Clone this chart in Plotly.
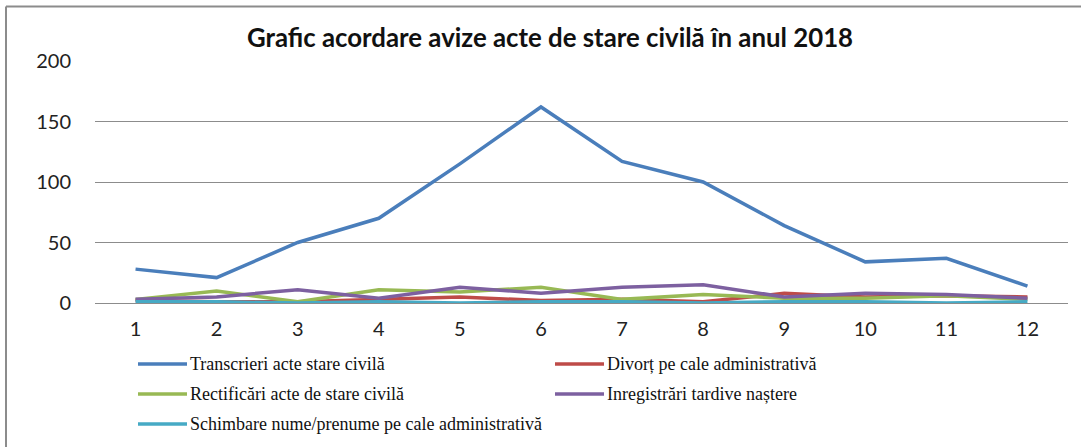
import plotly.graph_objects as go

months = [1, 2, 3, 4, 5, 6, 7, 8, 9, 10, 11, 12]
transcrieri = [28, 21, 50, 70, 115, 162, 117, 100, 64, 34, 37, 14]
divort = [2, 1, 1, 3, 5, 2, 3, 1, 8, 5, 6, 5]
rectificari = [3, 10, 1, 11, 9, 13, 3, 7, 4, 4, 6, 3]
inregistrari = [3, 5, 11, 4, 13, 8, 13, 15, 5, 8, 7, 4]
schimbare = [1, 1, 0, 1, 0, 1, 1, 0, 1, 1, 0, 1]

names = [
    "Transcrieri acte stare civilă",
    "Divorț pe cale administrativă",
    "Rectificări acte de stare civilă",
    "Inregistrări tardive naștere",
    "Schimbare nume/prenume pe cale administrativă",
]
series = [transcrieri, divort, rectificari, inregistrari, schimbare]
colors = ["#4A7EBB", "#BE4B48", "#98B954", "#7D60A0", "#46AAC5"]
y_ticks = [0, 50, 100, 150, 200]

W, H = 1081, 447
# plot area in screen pixels: x 95..1068, y 61..303
ML = 95
MT = 61
MR = W - 1068
MB = H - 303

fig = go.Figure()
for name, vals, col in zip(names, series, colors):
    fig.add_trace(go.Scatter(
        x=months, y=vals, name=name, mode="lines",
        line=dict(color=col, width=3.5), showlegend=False,
    ))

pw = W - ML - MR
ph = H - MT - MB


def px_x(p):
    return (p - ML) / pw


def px_y(p):
    return 1 - (p - MT) / ph


shapes = [
    dict(type="line", xref="paper", yref="paper",
         x0=px_x(6), x1=px_x(1100), y0=px_y(6.5), y1=px_y(6.5),
         line=dict(color="#8C8C8C", width=2)),
    dict(type="line", xref="paper", yref="paper",
         x0=px_x(6), x1=px_x(6), y0=px_y(6.5), y1=px_y(470),
         line=dict(color="#8C8C8C", width=2)),
]
annotations = []
col_x = [138, 555]
row_y = [364, 394, 424]
for i, (name, col) in enumerate(zip(names, colors)):
    cx = col_x[i % 2]
    ry = row_y[i // 2]
    shapes.append(dict(type="line", xref="paper", yref="paper",
                       x0=px_x(cx), x1=px_x(cx + 49), y0=px_y(ry), y1=px_y(ry),
                       line=dict(color=col, width=3.5)))
    annotations.append(dict(xref="paper", yref="paper", x=px_x(cx + 50), y=px_y(ry),
                            xanchor="left", yanchor="middle", showarrow=False,
                            text=name,
                            font=dict(family="Liberation Serif", size=18, color="#111")))

fig.update_layout(
    width=W, height=H,
    margin=dict(l=ML, r=MR, t=MT, b=MB, autoexpand=False),
    paper_bgcolor="white", plot_bgcolor="white",
    title=dict(
        text="<b>Grafic acordare avize acte de stare civilă în anul 2018</b>",
        x=550 / W, xanchor="center", y=1 - 38 / H, yanchor="middle",
        font=dict(family="Lato", size=25.8, color="#111"),
    ),
    xaxis=dict(
        range=[0.5, 12.5], tickvals=months, ticktext=[str(m) for m in months],
        showgrid=False, zeroline=False, showline=False,
        ticks="", ticklabelstandoff=12,
        tickfont=dict(family="Lato", size=20, color="#222"),
    ),
    yaxis=dict(
        range=[0, 200], tickvals=y_ticks,
        showgrid=True, gridcolor="#8C8C8C", gridwidth=1,
        zeroline=True, zerolinecolor="#8C8C8C", zerolinewidth=1,
        showline=False, ticks="", ticklabelstandoff=23,
        tickfont=dict(family="Lato", size=20, color="#222"),
    ),
    shapes=shapes,
    annotations=annotations,
)

fig.write_html(
    "out.html",
    config={"displayModeBar": False},
    post_script="document.body.style.margin='0';document.body.style.overflow='hidden';",
)
